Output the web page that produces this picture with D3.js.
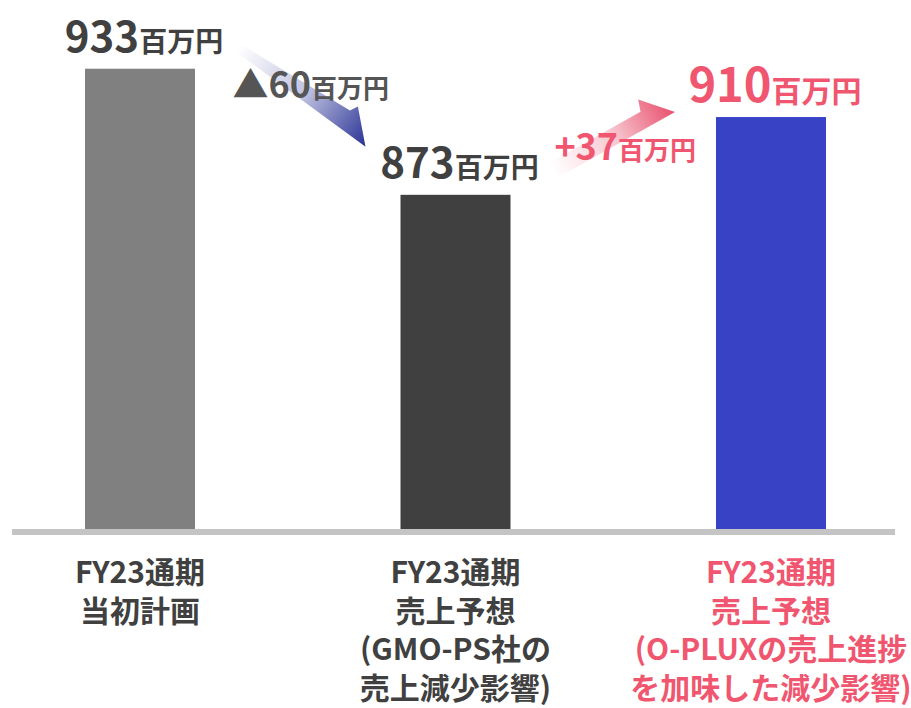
<!DOCTYPE html>
<html>
<head>
<meta charset="utf-8">
<script src="https://d3js.org/d3.v7.min.js"></script>
<style>
body { margin: 0; background: #fff; }
text { font-family: "Noto Sans CJK JP", "Noto Sans", sans-serif; font-weight: 700; }
</style>
</head>
<body>
<svg id="chart" width="911" height="708"></svg>
<script>
// data
var categories = ["当初計画", "売上予想(GMO-PS)", "売上予想(O-PLUX)"];
var labelLines = [
  ["FY23通期", "当初計画"],
  ["FY23通期", "売上予想", "(GMO-PS社の", "売上減少影響)"],
  ["FY23通期", "売上予想", "(O-PLUXの売上進捗", "を加味した減少影響)"]
];
var values = [933, 873, 910];
var deltas = ["▲60", "+37"];
var unit = "百万円";

var barColors = ["#808080", "#404040", "#3742c4"];
var textColors = ["#404040", "#404040", "#f0566f"];
var arrowColors = ["#2a3396", "#e8506d"];
var deltaColors = ["#555555", "#f0566f"];

var svg = d3.select("#chart");
var baseY = 529;

var x = d3.scalePoint().domain(d3.range(categories.length)).range([140, 771]);
var y = d3.scaleLinear().domain([714, 940]).range([baseY, 54]);
var barW = 110;

var defs = svg.append("defs");

// arrow shape: straight lower edge from tail to tip, barb on the upper side
function arrowPath(T, P, tailW, headW, hl, wing) {
  var dx = P[0] - T[0], dy = P[1] - T[1];
  var L = Math.sqrt(dx * dx + dy * dy);
  var u = [dx / L, dy / L], n = [u[1], -u[0]];
  var pts = [
    T, P,
    [P[0] - u[0] * hl + n[0] * wing, P[1] - u[1] * hl + n[1] * wing],
    [P[0] - u[0] * (hl + 4) + n[0] * headW, P[1] - u[1] * (hl + 4) + n[1] * headW],
    [T[0] + n[0] * tailW, T[1] + n[1] * tailW]
  ];
  return "M" + pts.map(function (p) { return p.join(","); }).join("L") + "Z";
}

var arrows = [
  { T: [x(0) + 96, y(values[0]) - 17], P: [x(1) - 90, y(values[1]) - 48], tailW: 9, headW: 20, hl: 30, wing: 28 },
  { T: [x(1) + 102, y(values[1]) - 17], P: [x(2) - 96, y(values[2]) - 5], tailW: 17, headW: 17, hl: 26, wing: 29 }
];

arrows.forEach(function (a, i) {
  var g = defs.append("linearGradient").attr("id", "ag" + i)
    .attr("gradientUnits", "userSpaceOnUse")
    .attr("x1", a.T[0]).attr("y1", a.T[1]).attr("x2", a.P[0]).attr("y2", a.P[1]);
  g.append("stop").attr("offset", 0).attr("stop-color", arrowColors[i]).attr("stop-opacity", 0);
  g.append("stop").attr("offset", 0.5).attr("stop-color", arrowColors[i]).attr("stop-opacity", 0.3);
  g.append("stop").attr("offset", 1).attr("stop-color", arrowColors[i]).attr("stop-opacity", 1);
  svg.append("path").attr("d", arrowPath(a.T, a.P, a.tailW, a.headW, a.hl, a.wing))
    .attr("fill", "url(#ag" + i + ")");
});

// bars
svg.selectAll("rect.bar").data(values).enter().append("rect")
  .attr("class", "bar")
  .attr("x", function (d, i) { return x(i) - barW / 2; })
  .attr("y", function (d) { return y(d); })
  .attr("width", barW)
  .attr("height", function (d) { return baseY - y(d); })
  .attr("fill", function (d, i) { return barColors[i]; });

// baseline
svg.append("line").attr("x1", 12).attr("x2", 895).attr("y1", baseY + 3).attr("y2", baseY + 3)
  .attr("stroke", "#c4c4c4").attr("stroke-width", 6);

// value labels (last one is emphasised)
var numSize = [42, 42, 47], unitSize = [28, 28, 30], lift = [17, 17, 15];
var vl = svg.selectAll("text.val").data(values).enter().append("text")
  .attr("class", "val")
  .attr("x", function (d, i) { return x(i) + 4; })
  .attr("y", function (d, i) { return y(d) - lift[i]; })
  .attr("text-anchor", "middle")
  .attr("fill", function (d, i) { return textColors[i]; });
vl.append("tspan").attr("font-size", function (d, i) { return numSize[i]; }).text(function (d) { return d; });
vl.append("tspan").attr("font-size", function (d, i) { return unitSize[i]; }).text(unit);

// delta labels
var dl = [
  { x: (x(0) + x(1)) / 2 + 13, y: y(values[0]) + 29 },
  { x: (x(1) + x(2)) / 2 + 12, y: y(values[1]) - 35 }
];
deltas.forEach(function (d, i) {
  var t = svg.append("text").attr("x", dl[i].x).attr("y", dl[i].y)
    .attr("text-anchor", "middle").attr("fill", deltaColors[i]);
  t.append("tspan").attr("font-size", 36).text(d);
  t.append("tspan").attr("font-size", 26).text(unit);
});

// category labels
labelLines.forEach(function (lines, i) {
  var t = svg.append("text").attr("x", x(i)).attr("y", 583)
    .attr("text-anchor", "middle").attr("font-size", 30)
    .attr("fill", textColors[i]);
  t.selectAll("tspan").data(lines).enter().append("tspan")
    .attr("x", x(i)).attr("dy", function (d, j) { return j === 0 ? 0 : 38.5; })
    .text(function (d) { return d; });
});
</script>
</body>
</html>
